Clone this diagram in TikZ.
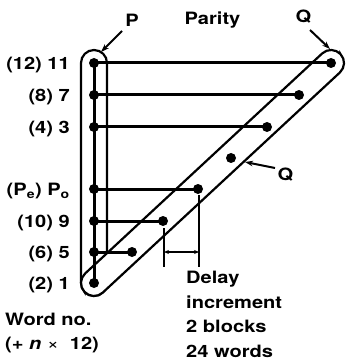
\documentclass[tikz,border=0pt]{standalone}
\usepackage{fontspec}
\setmainfont{TeX Gyre Heros}[FakeStretch=1.18]
\usetikzlibrary{arrows.meta}
\begin{document}
\begin{tikzpicture}[x=1pt,y=-1pt,
  dot/.style={circle,fill=black,inner sep=0pt,minimum size=10pt},
  capsule/.style={line width=2.2pt},
  conn/.style={line width=3pt},
  extline/.style={line width=2pt},
  lbl/.style={font=\fontsize{17}{24.5}\selectfont\bfseries, inner sep=0pt},
  pointer/.style={line width=2pt,-{Stealth[length=8pt,width=5.5pt]}},
  dimarrow/.style={line width=1.8pt,{Stealth[length=5pt,width=4pt]}-{Stealth[length=5pt,width=4pt]}}]
\useasboundingbox (0,0) rectangle (345,363);

% P capsule (vertical)
\draw[capsule, rounded corners=13pt] (81,50) rectangle (107,296);
% Q capsule (diagonal), drawn over the P capsule
\begin{scope}[shift={(94,283)}, rotate=42.87]
  \filldraw[capsule, fill=white, rounded corners=13pt] (-13,-13) rectangle (336.4,13);
\end{scope}

% dots, left column
\node[dot] (l11) at (94,63) {};
\node[dot] (l7) at (94,95) {};
\node[dot] (l3) at (94,127) {};
\node[dot] (l0) at (94,189) {};
\node[dot] (l9) at (94,221) {};
\node[dot] (l5) at (94,252) {};
\node[dot] (l1) at (94,283) {};
% dots, diagonal
\node[dot] (r11) at (331,63) {};
\node[dot] (r7) at (299,95) {};
\node[dot] (r3) at (267,127) {};
\node[dot] (rq) at (231,158) {};
\node[dot] (r0) at (198,189) {};
\node[dot] (r9) at (163,221) {};
\node[dot] (r5) at (132,252) {};

% connectors
\draw[conn] (l11.center) -- (l1.center);
\draw[conn] (l11.center) -- (r11.center);
\draw[conn] (l7.center) -- (r7.center);
\draw[conn] (l3.center) -- (r3.center);
\draw[conn] (l0.center) -- (r0.center);
\draw[conn] (l9.center) -- (r9.center);
\draw[conn] (l5.center) -- (r5.center);

% word labels
\node[lbl, anchor=base east] (w11) at (70,69.5) {(12) 11};
\node[lbl, anchor=base east] (w7) at (70,101.5) {(8) 7};
\node[lbl, anchor=base east] (w3) at (70,133.5) {(4) 3};
\node[lbl, anchor=base east] (w0) at (70,195.5) {(P\textsubscript{e}) P\textsubscript{o}};
\node[lbl, anchor=base east] (w9) at (70,227.5) {(10) 9};
\node[lbl, anchor=base east] (w5) at (70,258.5) {(6) 5};
\node[lbl, anchor=base east] (w1) at (70,289.5) {(2) 1};
\node[lbl, anchor=base west, align=left] (wordno) at (5,349.5) {Word no.\\(+ \textit{n} {\mdseries×}\ \ 12)};

% top labels
\node[lbl, anchor=base] (plbl) at (132,27) {P};
\node[lbl, anchor=base] (parity) at (212.5,25) {Parity};
\node[lbl, anchor=base] (qtop) at (303.5,23) {Q};
\node[lbl, anchor=base] (qright) at (285.5,180) {Q};

% pointers
\coordinate (ps) at (122,31);
\coordinate (pt) at (101,52);
\draw[pointer] (ps) -- (pt);
\coordinate (qs) at (310,30);
\coordinate (qt) at (330,49);
\draw[pointer] (qs) -- (qt);
\coordinate (q2s) at (275,168);
\coordinate (q2t) at (245,162);
\draw[pointer] (q2s) -- (q2t);

% delay increment dimension
\coordinate (e1a) at (164,228);
\coordinate (e1b) at (164,267);
\coordinate (e2a) at (199,195);
\coordinate (e2b) at (199,267);
\draw[extline] (e1a) -- (e1b);
\draw[extline] (e2a) -- (e2b);
\coordinate (d1) at (164,252);
\coordinate (d2) at (199,252);
\draw[dimarrow] (d1) -- (d2);

\node[lbl, anchor=base west, align=left] (delay) at (186,357) {Delay\\increment\\2 blocks\\24 words};
\end{tikzpicture}
\end{document}
